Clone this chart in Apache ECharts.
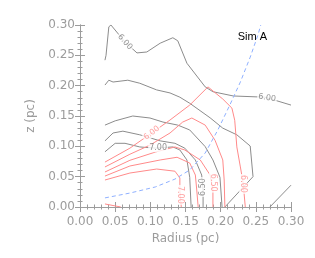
<!DOCTYPE html>
<html><head><meta charset="utf-8">
<script src="https://cdn.jsdelivr.net/npm/echarts@6/dist/echarts.min.js"></script>
<style>html,body{margin:0;padding:0;background:#fff}#c{width:315px;height:258px}</style>
</head><body><div id="c"></div>
<script>
// x ticks (pc), y ticks (pc)
const xTicks = [0.00,0.05,0.10,0.15,0.20,0.25,0.30];
const yTicks = [0.00,0.05,0.10,0.15,0.20,0.25,0.30];

// model contours (gray), [radius, z]
const gray600 = [[0.0355,0.242],[0.037,0.25],[0.041,0.297],[0.0427,0.30],[0.044,0.30],[0.064,0.272],[0.081,0.254],[0.095,0.2555],[0.114,0.270],[0.132,0.279],[0.139,0.274],[0.152,0.237],[0.178,0.198],[0.189,0.190],[0.218,0.183],[0.263,0.181],[0.30,0.168]];
const grayB = [[0.0355,0.201],[0.041,0.209],[0.047,0.206],[0.068,0.209],[0.085,0.204],[0.109,0.193],[0.128,0.188],[0.142,0.181],[0.156,0.171],[0.185,0.147],[0.203,0.130],[0.223,0.119],[0.242,0.1005],[0.246,0.05],[0.206,0]];
const grayC = [[0.0355,0.135],[0.050,0.142],[0.075,0.150],[0.0995,0.1467],[0.118,0.140],[0.139,0.135],[0.156,0.127],[0.178,0.0995],[0.189,0.0775],[0.199,0.049],[0.202,0]];
const gray650 = [[0.0355,0.109],[0.047,0.122],[0.061,0.125],[0.085,0.119],[0.114,0.109],[0.135,0.105],[0.149,0.097],[0.164,0.0775],[0.173,0.0527],[0.175,0.028],[0.175,0]];
const gray700 = [[0.0355,0.091],[0.050,0.105],[0.064,0.105],[0.085,0.099],[0.107,0.097],[0.132,0.099],[0.142,0.094],[0.152,0.0775],[0.156,0.049],[0.158,0]];
const grayCorner = [[0.270,0],[0.30,0.036]];

// data contours (red)
const red600 = [[0.0355,0.074],[0.071,0.097],[0.102,0.122],[0.128,0.1434],[0.156,0.168],[0.182,0.198],[0.203,0.178],[0.216,0.163],[0.220,0.143],[0.223,0.099],[0.228,0.066],[0.232,0.0396],[0.235,0]];
const redB = [[0.0355,0.066],[0.071,0.087],[0.0995,0.102],[0.128,0.122],[0.146,0.140],[0.159,0.1467],[0.178,0.135],[0.192,0.110],[0.203,0.0775],[0.205,0.0445],[0.206,0]];
const red650 = [[0.0355,0.0577],[0.071,0.077],[0.107,0.0905],[0.135,0.099],[0.149,0.094],[0.171,0.0775],[0.185,0.0527],[0.189,0.028],[0.189,0]];
const redD = [[0.0355,0.051],[0.071,0.0676],[0.114,0.0775],[0.138,0.082],[0.156,0.0725],[0.164,0.0527],[0.166,0.028],[0.168,0]];
const red700 = [[0.0355,0.0445],[0.071,0.056],[0.109,0.0626],[0.135,0.059],[0.142,0.048],[0.142,0.028],[0.144,0]];
const redF = [[0.0355,0.005],[0.058,0]];

// blue dashed curve
const blueCurve = [[0.0355,0.015],[0.071,0.023],[0.107,0.033],[0.135,0.046],[0.156,0.061],[0.178,0.089],[0.196,0.127],[0.213,0.168],[0.228,0.206],[0.242,0.247],[0.253,0.2835],[0.257,0.30]];

// contour labels: [radius, z, text]
const grayLabels = [[0.064,0.272,'6.00'],[0.266,0.180,'6.00'],[0.111,0.097,'7.00'],[0.175,0.033,'6.50']];
const redLabels = [[0.102,0.122,'6.00'],[0.232,0.038,'6.00'],[0.189,0.040,'6.50'],[0.142,0.020,'7.00']];

const GRAY = '#8c8c8c', RED = '#ff8a8a', BLUE = '#8fb0ff', AX = '#9c9c9c';
const grayRot = [-48, -8, 0, 90];
const redRot = [38, -90, -90, -90];

function lineSeries(d, color, dashed){
  return {type:'line', data:d, showSymbol:false, silent:true, animation:false, z:2,
    lineStyle:{color:color, width:1, type: dashed ? [4,3] : 'solid'}};
}
function labelSeries(list, color, rots){
  return {type:'scatter', symbolSize:0, silent:true, animation:false, z:5,
    data:list.map((l,i)=>({value:[l[0],l[1]], name:l[2],
      label:{show:true, position:'inside', formatter:l[2], rotate:rots[i], color:color,
        fontSize:8, fontFamily:'DejaVu Sans', backgroundColor:'#fff', padding:[0,1]}}))};
}

const series = [
  lineSeries(gray600,GRAY), lineSeries(grayB,GRAY), lineSeries(grayC,GRAY),
  lineSeries(gray650,GRAY), lineSeries(gray700,GRAY), lineSeries(grayCorner,GRAY),
  lineSeries(red600,RED), lineSeries(redB,RED), lineSeries(red650,RED),
  lineSeries(redD,RED), lineSeries(red700,RED), lineSeries(redF,RED),
  lineSeries(blueCurve,BLUE,true),
  labelSeries(grayLabels,'#777',grayRot), labelSeries(redLabels,RED,redRot)
];

const axisCommon = {min:0, max:0.3, interval:0.05,
  axisLine:{show:true, lineStyle:{color:AX, width:1}},
  axisTick:{show:true, inside:true, length:5, lineStyle:{color:AX}},
  minorTick:{show:true, splitNumber:5, length:2.5, lineStyle:{color:AX}},
  splitLine:{show:false}};

const chart = echarts.init(document.getElementById('c'), null, {renderer:'canvas'});
chart.setOption({
  animation:false,
  title:{text:'Sim A', right:43, top:26, textStyle:{fontFamily:'Liberation Sans', fontSize:11, fontWeight:'normal', color:'#000'}},
  grid:{left:80, top:25, right:24, bottom:51},
  xAxis:[
    Object.assign({}, axisCommon, {type:'value', position:'bottom', name:'Radius (pc)', nameLocation:'middle', nameGap:25,
      nameTextStyle:{color:AX, fontSize:12, fontFamily:'DejaVu Sans'},
      axisLabel:{color:AX, fontSize:12, fontFamily:'DejaVu Sans', margin:9, formatter:v=>v.toFixed(2)}}),
    Object.assign({}, axisCommon, {type:'value', position:'top', axisLabel:{show:false}})
  ],
  yAxis:[
    Object.assign({}, axisCommon, {type:'value', position:'left', name:'z (pc)', nameLocation:'middle', nameGap:43, nameRotate:90,
      nameTextStyle:{color:AX, fontSize:12, fontFamily:'DejaVu Sans'},
      axisLabel:{color:AX, fontSize:12, fontFamily:'DejaVu Sans', margin:5, formatter:v=>v.toFixed(2)}}),
    Object.assign({}, axisCommon, {type:'value', position:'right', axisLabel:{show:false}})
  ],
  series: series
});
</script></body></html>
